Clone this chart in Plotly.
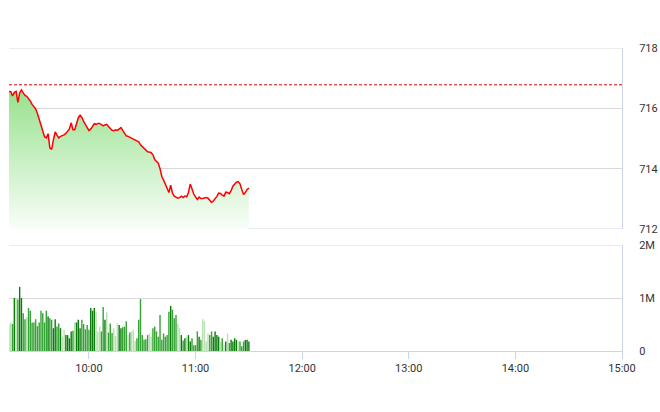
import plotly.graph_objects as go
import pandas as pd

# ---- data ----
times = pd.date_range("2024-01-02 09:15", periods=136, freq="min")

price = [
    716.56, 716.55, 716.41, 716.53, 716.56, 716.20, 716.51, 716.61, 716.51, 716.43,
    716.40, 716.33, 716.24, 716.13, 716.05, 715.98, 715.83, 715.62, 715.42, 715.19,
    715.06, 715.02, 715.16, 714.69, 714.64, 714.96, 715.22, 715.11, 715.02, 715.07,
    715.09, 715.12, 715.17, 715.24, 715.32, 715.52, 715.29, 715.29, 715.49, 715.69,
    715.77, 715.70, 715.57, 715.47, 715.36, 715.26, 715.31, 715.42, 715.49, 715.47,
    715.50, 715.50, 715.45, 715.42, 715.45, 715.47, 715.40, 715.32, 715.27, 715.26,
    715.29, 715.27, 715.32, 715.36, 715.27, 715.16, 715.09, 715.07, 715.04, 715.01,
    714.99, 714.96, 714.93, 714.89, 714.79, 714.73, 714.66, 714.60, 714.56, 714.55,
    714.53, 714.46, 714.30, 714.24, 714.18, 714.00, 713.74, 713.62, 713.49, 713.31,
    713.21, 713.45, 713.19, 713.09, 713.04, 713.02, 713.04, 713.09, 713.04, 713.09,
    713.07, 713.21, 713.49, 713.29, 713.16, 713.06, 712.98, 713.06, 713.01, 713.01,
    713.02, 713.04, 713.02, 712.96, 712.88, 712.93, 712.99, 713.08, 713.19, 713.18,
    713.12, 713.09, 713.22, 713.21, 713.17, 713.27, 713.42, 713.49, 713.55, 713.57,
    713.50, 713.31, 713.14, 713.21, 713.31, 713.36,
]

volume_m = [
    0.50, 0.54, 0.51, 1.00, 0.98, 0.97, 1.21, 1.00, 0.71, 0.60,
    0.64, 0.81, 0.76, 0.54, 0.54, 0.60, 0.47, 0.54, 0.76, 0.71,
    0.54, 0.76, 0.65, 0.62, 0.59, 0.43, 0.60, 0.46, 0.52, 0.43,
    0.27, 0.40, 0.30, 0.30, 0.24, 0.37, 0.38, 0.54, 0.54, 0.59,
    0.43, 0.59, 0.51, 0.41, 0.49, 0.40, 0.81, 0.76, 0.81, 0.74,
    0.37, 0.46, 0.37, 0.83, 0.59, 0.73, 0.35, 0.52, 0.34, 0.43,
    0.28, 0.52, 0.49, 0.43, 0.45, 0.46, 0.56, 0.30, 0.35, 0.37,
    0.40, 0.19, 0.24, 0.59, 0.98, 0.30, 0.21, 0.22, 0.30, 0.33,
    0.27, 0.43, 0.46, 0.37, 0.27, 0.68, 0.21, 0.33, 0.27, 0.30,
    0.74, 0.85, 0.78, 0.62, 0.68, 0.52, 0.43, 0.30, 0.20, 0.24,
    0.27, 0.30, 0.18, 0.24, 0.11, 0.11, 0.37, 0.27, 0.21, 0.60,
    0.56, 0.18, 0.33, 0.30, 0.37, 0.27, 0.37, 0.30, 0.27, 0.18,
    0.24, 0.11, 0.18, 0.33, 0.15, 0.21, 0.18, 0.24, 0.21, 0.18,
    0.18, 0.09, 0.18, 0.21, 0.21, 0.18,
]

reference_price = 716.78
price_range = [712, 718]
price_ticks = [712, 714, 716, 718]
volume_range = [0, 2_000_000]
volume_ticks = [0, 1_000_000, 2_000_000]
volume_tick_text = ["0", "1M", "2M"]
time_ticks = ["2024-01-02 10:00", "2024-01-02 11:00", "2024-01-02 12:00",
              "2024-01-02 13:00", "2024-01-02 14:00", "2024-01-02 15:00"]
time_tick_text = ["10:00", "11:00", "12:00", "13:00", "14:00", "15:00"]
x_range = ["2024-01-02 09:15", "2024-01-02 15:00"]

# ---- styling ----
DARK, MID, LIGHT = "#0c7c0c", "#35a335", "#b7e1b0"
GRID = "#d9d9d9"
bar_colors = []
for i, p in enumerate(price):
    prev = price[i - 1] if i > 0 else p
    diff = p - prev
    if diff > 0.03:
        bar_colors.append(DARK)
    elif diff < -0.03:
        bar_colors.append(MID)
    else:
        bar_colors.append(LIGHT)

volume = [v * 1_000_000 for v in volume_m]

fig = go.Figure()
fig.add_trace(go.Scatter(
    x=times, y=price, mode="lines",
    line=dict(color="#ff0000", width=1.5),
    fill="tozeroy",
    fillgradient=dict(type="vertical", start=712, stop=716.7,
                      colorscale=[[0, "rgb(250,254,250)"], [1, "rgb(150,225,140)"]]),
    yaxis="y", hoverinfo="skip", showlegend=False,
))
fig.add_trace(go.Bar(
    x=times, y=volume, marker=dict(color=bar_colors, line=dict(width=0)),
    width=60000 * 0.8, yaxis="y2", showlegend=False,
))

# panel frame lines at the range edges (gridlines at the edges)
for yref, yv in [("y", price_range[0]), ("y", price_range[1]), ("y2", volume_range[1])]:
    fig.add_shape(type="line", xref="paper", x0=0, x1=1, yref=yref, y0=yv, y1=yv,
                  line=dict(color=GRID, width=1), layer="below")

fig.add_shape(type="line", xref="paper", x0=0, x1=1, yref="y",
              y0=reference_price, y1=reference_price,
              line=dict(color="#e00000", width=1, dash="3px,2px"))

axis_font = dict(family="Roboto, Arial, sans-serif", size=11, color="#333333")
fig.update_layout(
    width=660, height=412,
    margin=dict(l=9, r=38, t=48, b=61),
    paper_bgcolor="white", plot_bgcolor="white",
    showlegend=False, bargap=0.2,
    xaxis=dict(type="date", range=x_range, anchor="y2",
               tickvals=time_ticks, ticktext=time_tick_text,
               showgrid=False, zeroline=False,
               showline=True, linecolor="#ccd6eb", linewidth=1,
               ticks="outside", ticklen=7, tickcolor="#ccd6eb",
               tickfont=axis_font, automargin=False),
    yaxis=dict(domain=[0.4026, 1.0], range=price_range, side="right",
               tickvals=price_ticks, showgrid=True, gridcolor=GRID,
               zeroline=False, showline=True, linecolor="#ccd6eb",
               ticks="", ticklabelstandoff=14, tickfont=axis_font,
               automargin=False),
    yaxis2=dict(domain=[0.0, 0.3498], range=volume_range, side="right",
                tickvals=volume_ticks, ticktext=volume_tick_text,
                showgrid=True, gridcolor=GRID, zeroline=False,
                showline=True, linecolor="#ccd6eb",
                ticks="", ticklabelstandoff=14, tickfont=axis_font,
                automargin=False),
)

fig.write_html("out.html",
               config={"displayModeBar": False, "staticPlot": True},
               post_script="document.body.style.margin='0px';document.body.style.padding='0px';")
